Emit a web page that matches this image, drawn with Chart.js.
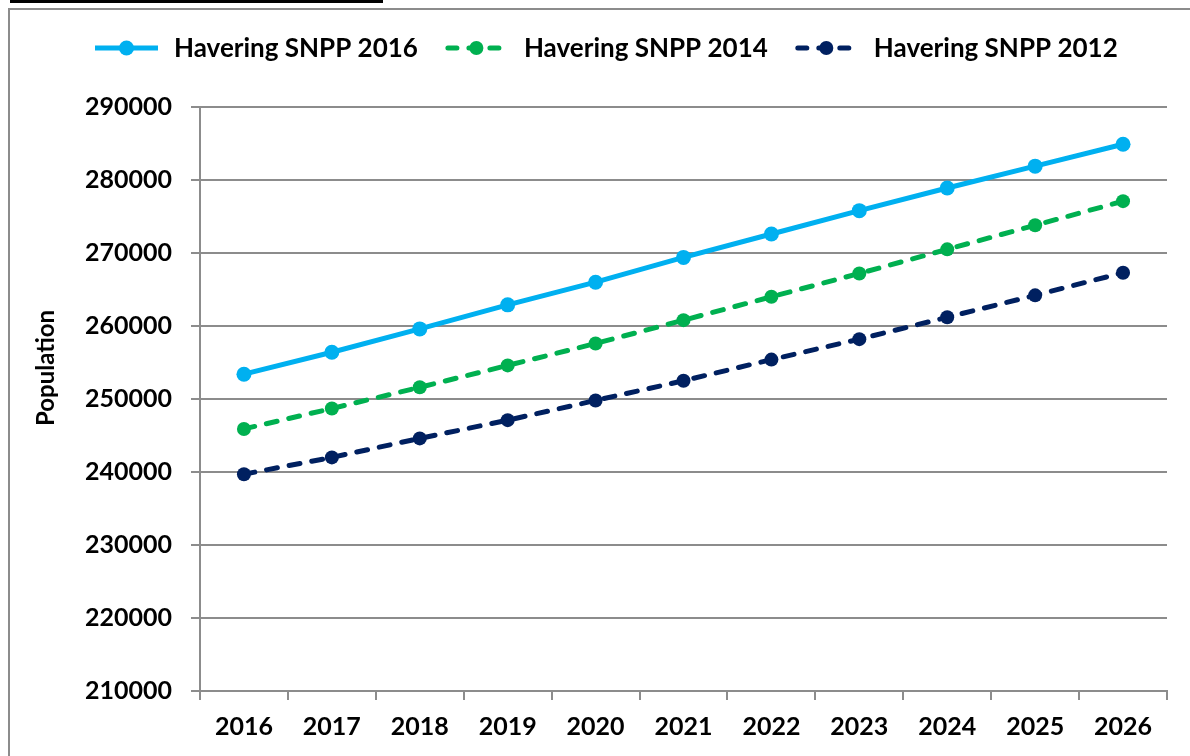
<!DOCTYPE html>
<html>
<head>
<meta charset="utf-8">
<script src="https://cdn.jsdelivr.net/npm/chart.js@4.4.1/dist/chart.umd.min.js"></script>
<style>
  html, body { margin: 0; padding: 0; background: #fff; }
  #wrap { position: relative; width: 1190px; height: 756px; overflow: hidden; }
  #topbar { position: absolute; left: 10px; top: 0; width: 373px; height: 3px; background: #000; }
  #frame { position: absolute; left: 8px; top: 8px; width: 1300px; height: 900px; border: 2px solid #8c8c8c; }
  #c { position: absolute; left: 0; top: 0; }
</style>
</head>
<body>
<div id="wrap">
  <div id="topbar"></div>
  <div id="frame"></div>
  <canvas id="c" width="1190" height="756"></canvas>
</div>
<script>
// data
const years = ["2016", "2017", "2018", "2019", "2020", "2021", "2022", "2023", "2024", "2025", "2026"];
const snpp2016 = [253400, 256400, 259600, 262900, 266000, 269400, 272600, 275800, 278900, 281900, 284900];
const snpp2014 = [245900, 248700, 251600, 254600, 257600, 260800, 264000, 267200, 270500, 273800, 277100];
const snpp2012 = [239700, 242000, 244600, 247100, 249800, 252500, 255400, 258200, 261200, 264200, 267300];
const seriesNames = ["Havering SNPP 2016", "Havering SNPP 2014", "Havering SNPP 2012"];
const seriesColors = ["#00B0F0", "#00B050", "#002060"];
const yTitle = "Population";

const fontFam = "Lato, 'Open Sans', sans-serif";
const gridCol = "#8c8c8c";
const dash = [11, 12];

// legend + y title drawn by hand, placed like the Excel original
const extrasPlugin = {
  id: "xlExtras",
  afterDraw(chart) {
    const ctx = chart.ctx;
    const y = 48;
    let x = 95;
    ctx.save();
    ctx.font = "bold 26px " + fontFam;
    ctx.textBaseline = "middle";
    chart.data.datasets.forEach((ds, i) => {
      ctx.strokeStyle = ds.borderColor;
      ctx.fillStyle = ds.borderColor;
      ctx.lineWidth = 5;
      ctx.lineCap = i === 0 ? "butt" : "round";
      ctx.setLineDash(i === 0 ? [] : [9, 12]);
      ctx.beginPath();
      ctx.moveTo(x + (i === 0 ? 0 : 3), y);
      ctx.lineTo(x + 63, y);
      ctx.stroke();
      ctx.setLineDash([]);
      ctx.beginPath();
      ctx.arc(x + 31.5, y, i === 0 ? 7.5 : 7, 0, Math.PI * 2);
      ctx.fill();
      ctx.fillStyle = "#000";
      ctx.fillText(ds.label, x + 79, y + 1);
      x += 79 + ctx.measureText(ds.label).width + 27;
    });
    // y axis title
    ctx.translate(45, 368);
    ctx.rotate(-Math.PI / 2);
    ctx.font = "bold 24px " + fontFam;
    ctx.textAlign = "center";
    ctx.fillText(yTitle, 0, 1);
    ctx.restore();
  }
};

new Chart(document.getElementById("c"), {
  type: "line",
  data: {
    labels: years,
    datasets: [
      { label: seriesNames[0], data: snpp2016, borderColor: seriesColors[0], backgroundColor: seriesColors[0],
        borderWidth: 5, pointRadius: 7.5, pointBorderWidth: 0, pointBackgroundColor: seriesColors[0] },
      { label: seriesNames[1], data: snpp2014, borderColor: seriesColors[1], backgroundColor: seriesColors[1],
        borderWidth: 5, borderDash: dash, borderCapStyle: "round",
        pointRadius: 7, pointBorderWidth: 0, pointBackgroundColor: seriesColors[1] },
      { label: seriesNames[2], data: snpp2012, borderColor: seriesColors[2], backgroundColor: seriesColors[2],
        borderWidth: 5, borderDash: dash, borderCapStyle: "round",
        pointRadius: 7, pointBorderWidth: 0, pointBackgroundColor: seriesColors[2] }
    ]
  },
  options: {
    responsive: false,
    animation: false,
    devicePixelRatio: 1,
    layout: { padding: { left: 10, right: 23, top: 107, bottom: 0 } },
    plugins: { legend: { display: false }, tooltip: { enabled: false } },
    scales: {
      x: {
        offset: true,
        grid: { offset: true, drawOnChartArea: false, drawTicks: true, tickLength: 9, color: gridCol, lineWidth: 2 },
        border: { display: true, color: gridCol, width: 2 },
        ticks: { color: "#000", font: { family: fontFam, size: 25, weight: "bold" }, padding: 12, maxRotation: 0 },
        afterFit(scale) { scale.height = 65; }
      },
      y: {
        min: 210000,
        max: 290000,
        grid: { color: gridCol, lineWidth: 2, tickLength: 9 },
        border: { display: true, color: gridCol, width: 2 },
        ticks: { stepSize: 10000, color: "#000", font: { family: fontFam, size: 25, weight: "bold" }, padding: 19,
                 callback: v => String(v) },
        afterFit(scale) { scale.width = 190; }
      }
    }
  },
  plugins: [extrasPlugin]
});
</script>
</body>
</html>
